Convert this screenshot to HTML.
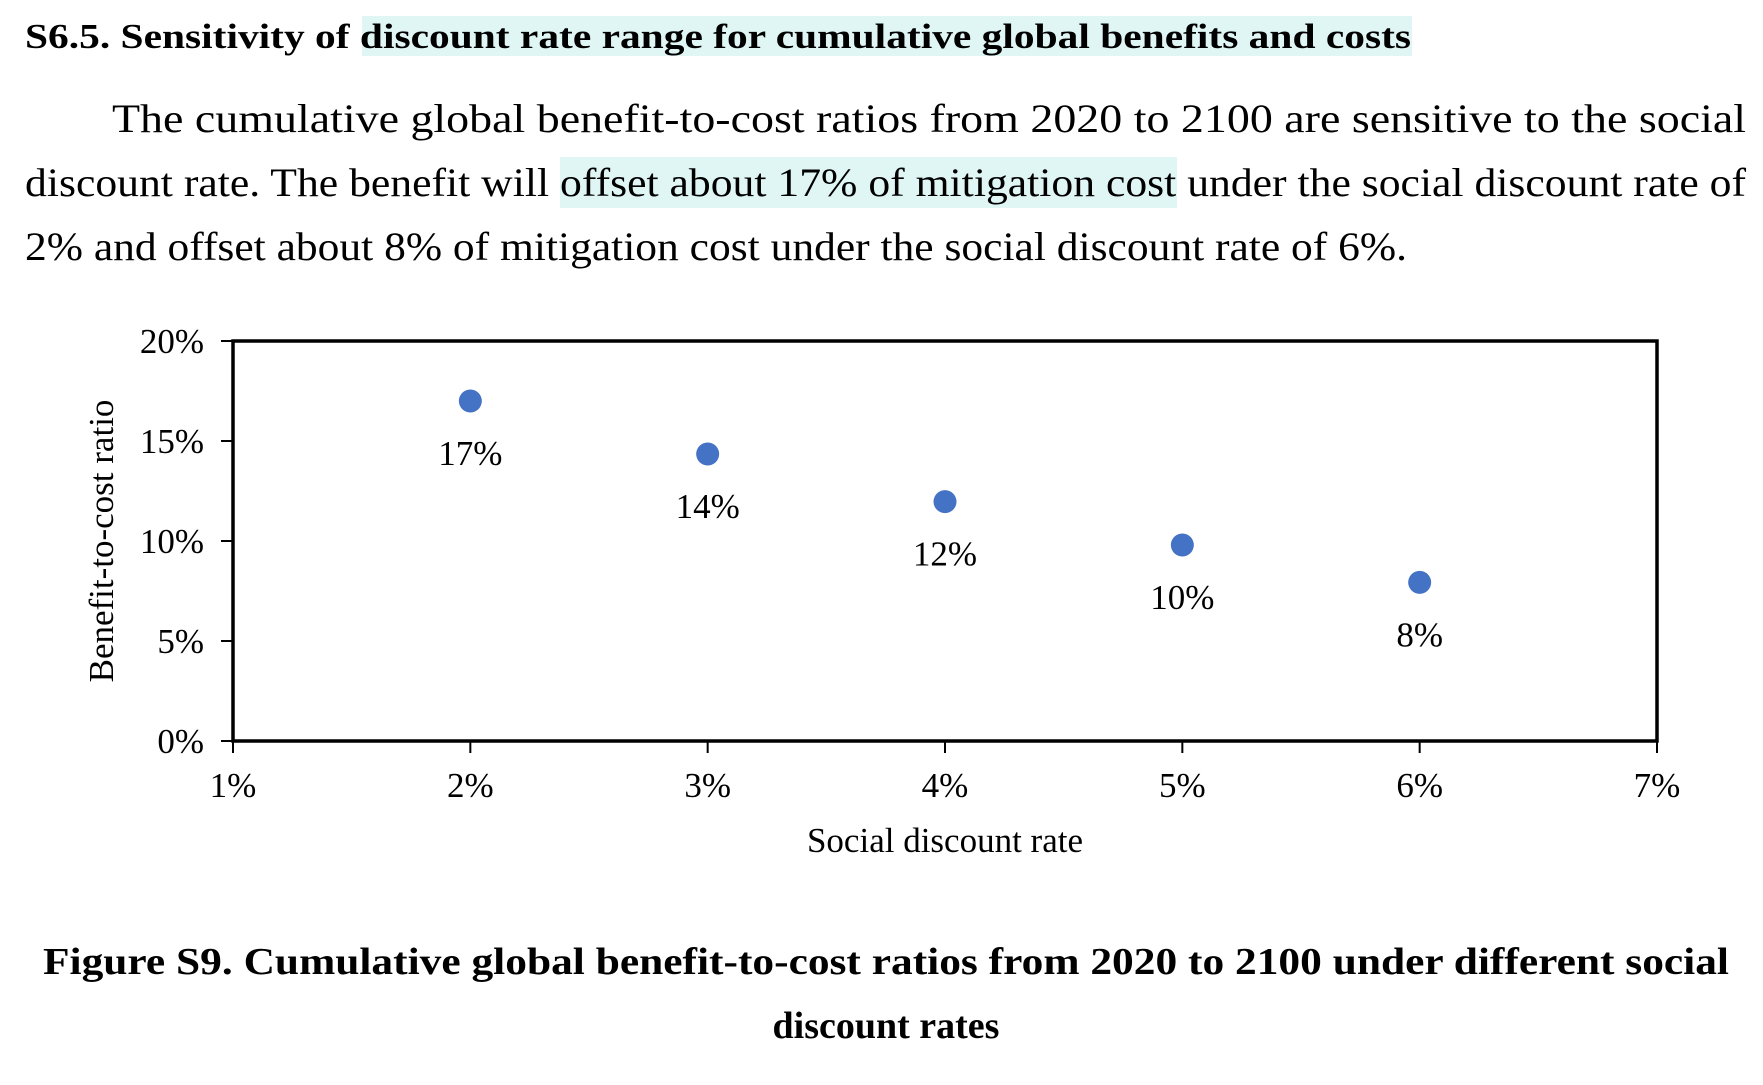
<!DOCTYPE html>
<html><head><meta charset="utf-8"><style>
html,body{margin:0;padding:0;background:#fff;}
svg{display:block;}
text{font-family:"Liberation Serif","Times New Roman",Times,serif;}
</style></head><body>
<svg id="page" width="1763" height="1085" viewBox="0 0 1763 1085" font-family="Liberation Serif, serif">
  <rect x="362" y="16" width="1050" height="40" fill="#dff6f5"/>
  <text x="25" y="48" font-size="35" font-weight="bold" textLength="1386" lengthAdjust="spacingAndGlyphs">S6.5. Sensitivity of discount rate range for cumulative global benefits and costs</text>
  <rect x="560" y="157" width="617" height="51" fill="#dff6f5"/>
  <g font-size="40">
    <text x="112" y="132" textLength="1634" lengthAdjust="spacingAndGlyphs">The cumulative global benefit-to-cost ratios from 2020 to 2100 are sensitive to the social</text>
    <text x="25" y="196" textLength="1721" lengthAdjust="spacingAndGlyphs">discount rate. The benefit will offset about 17% of mitigation cost under the social discount rate of</text>
    <text x="25" y="260" textLength="1382" lengthAdjust="spacingAndGlyphs">2% and offset about 8% of mitigation cost under the social discount rate of 6%.</text>
  </g>
  <g id="chart"></g>
  <g font-size="38" font-weight="bold" text-anchor="middle">
    <text x="886" y="974" textLength="1686" lengthAdjust="spacingAndGlyphs">Figure S9. Cumulative global benefit-to-cost ratios from 2020 to 2100 under different social</text>
    <text x="886" y="1038">discount rates</text>
  </g>
</svg>
<script>
const discountRates = [2, 3, 4, 5, 6];
const ratios = [17.0, 14.35, 11.97, 9.8, 7.93];
const pointLabels = ["17%", "14%", "12%", "10%", "8%"];
const xTicks = [1, 2, 3, 4, 5, 6, 7];
const yTicks = [0, 5, 10, 15, 20];

const NS = "http://www.w3.org/2000/svg";
const L = 233, R = 1657, T = 341, B = 741;
const xMin = 1, xMax = 7, yMin = 0, yMax = 20;
const sx = v => L + (v - xMin) / (xMax - xMin) * (R - L);
const sy = v => B - (v - yMin) / (yMax - yMin) * (B - T);
const chart = document.getElementById("chart");
function mk(tag, attrs, parent) {
  const e = document.createElementNS(NS, tag);
  for (const k in attrs) e.setAttribute(k, attrs[k]);
  (parent || chart).appendChild(e);
  return e;
}
const frame = mk("rect", {x: L, y: T, width: R - L, height: B - T, fill: "none", stroke: "#000", "stroke-width": 3.5});



yTicks.forEach(v => {
  const tk = mk("line", {x1: L - 12, x2: L, y1: sy(v), y2: sy(v), stroke: "#000", "stroke-width": 2});
  
  
  const t = mk("text", {x: L - 29, y: sy(v) + 12, "font-size": 35, "text-anchor": "end"});
  t.textContent = v + "%";
  
  
});
xTicks.forEach(v => {
  const tk = mk("line", {x1: sx(v), x2: sx(v), y1: B, y2: B + 12, stroke: "#000", "stroke-width": 2});
  
  
  const t = mk("text", {x: sx(v), y: B + 56, "font-size": 35, "text-anchor": "middle"});
  t.textContent = v + "%";
  
  
});
discountRates.forEach((d, i) => {
  const c = mk("circle", {cx: sx(d), cy: sy(ratios[i]), r: 11.5, fill: "#4472c4"});
  
  
  const t = mk("text", {x: sx(d), y: sy(ratios[i]) + 64, "font-size": 35, "text-anchor": "middle"});
  t.textContent = pointLabels[i];
  
  
});
const xt = mk("text", {x: (L + R) / 2, y: 852, "font-size": 35, "text-anchor": "middle"});
xt.textContent = "Social discount rate";


const yt = mk("text", {x: 0, y: 0, "font-size": 35, "text-anchor": "middle", transform: "translate(113,541) rotate(-90)"});
yt.textContent = "Benefit-to-cost ratio";


</script>
</body></html>
